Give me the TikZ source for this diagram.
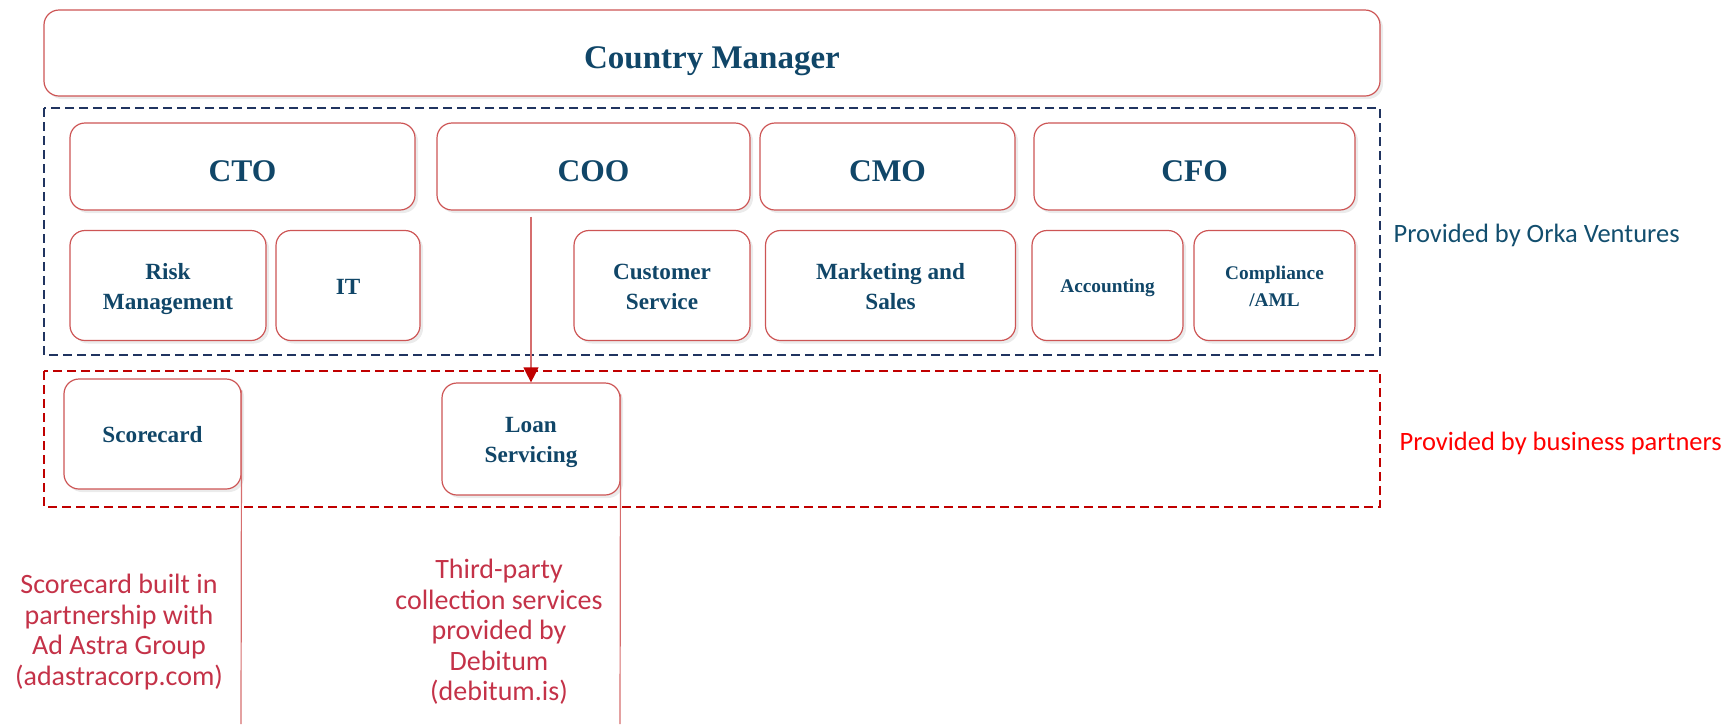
\documentclass[tikz,border=0pt]{standalone}
\usepackage{fontspec}
\setmainfont{Liberation Serif}
\newfontfamily\calib{Carlito}
\usetikzlibrary{shadows,arrows.meta}
\definecolor{boxtext}{RGB}{16,70,104}
\definecolor{boxline}{RGB}{205,85,85}
\definecolor{navydash}{RGB}{32,52,96}
\definecolor{reddash}{RGB}{192,0,0}
\definecolor{orka}{RGB}{18,78,110}
\definecolor{partner}{RGB}{255,0,0}
\definecolor{annot}{RGB}{196,50,72}
\definecolor{linkred}{RGB}{214,110,110}
\newcommand\boxtx[2]{\raisebox{-#1}[\height][\depth]{\begin{tabular}{@{}c@{}}#2\end{tabular}}}
\begin{document}
\begin{tikzpicture}[x=1pt,y=-1pt,
  orgbox/.style={draw=boxline, line width=1.2pt, rounded corners=15pt, fill=white,
    inner sep=0pt, align=center, text=boxtext,
    drop shadow={opacity=0.16, shadow xshift=3pt, shadow yshift=-3pt}},
  bigtxt/.style={font=\fontsize{33}{38}\selectfont\bfseries},
  midtxt/.style={font=\fontsize{31.5}{36}\selectfont\bfseries},
  subtxt/.style={font=\fontsize{23.2}{30}\selectfont\bfseries},
  smalltxt/.style={font=\fontsize{19.3}{27}\selectfont\bfseries},
  groupline/.style={line width=2.6pt, dash pattern=on 9pt off 5pt},
  annottxt/.style={font=\calib\fontsize{28}{30.5}\selectfont, text=annot, align=center},
  sidetxt/.style={font=\calib\fontsize{26.5}{30}\selectfont, anchor=west},
  link/.style={draw=linkred, line width=1.2pt}
]
\useasboundingbox (0,0) rectangle (1734,724);

% group frames
\draw[groupline, draw=navydash] (44,108) rectangle (1380,355);
\draw[groupline, draw=reddash] (44,371) rectangle (1380,507);

% top
\node[orgbox, bigtxt, minimum width=1336pt, minimum height=86pt] (cm) at (712,53) {\boxtx{8.3pt}{Country Manager}};

% executives
\node[orgbox, midtxt, minimum width=345pt, minimum height=87pt] (cto) at (242.5,166.5) {\boxtx{8pt}{CTO}};
\node[orgbox, midtxt, minimum width=313pt, minimum height=87pt] (coo) at (593.5,166.5) {\boxtx{8pt}{COO}};
\node[orgbox, midtxt, minimum width=255pt, minimum height=87pt] (cmo) at (887.5,166.5) {\boxtx{8pt}{CMO}};
\node[orgbox, midtxt, minimum width=321pt, minimum height=87pt] (cfo) at (1194.5,166.5) {\boxtx{8pt}{CFO}};

% departments
\node[orgbox, subtxt, minimum width=196pt, minimum height=110pt] (risk) at (168,285.5) {\boxtx{3.3pt}{Risk\\Management}};
\node[orgbox, subtxt, minimum width=144pt, minimum height=110pt] (it) at (348,285.5) {\boxtx{3.3pt}{IT}};
\node[orgbox, subtxt, minimum width=176pt, minimum height=110pt] (cs) at (662,285.5) {\boxtx{3.3pt}{Customer\\Service}};
\node[orgbox, subtxt, minimum width=250pt, minimum height=110pt] (ms) at (890.5,285.5) {\boxtx{3.3pt}{Marketing and\\Sales}};
\node[orgbox, smalltxt, minimum width=151pt, minimum height=110pt] (acc) at (1107.5,285.5) {\boxtx{1.6pt}{Accounting}};
\node[orgbox, smalltxt, minimum width=161pt, minimum height=110pt] (comp) at (1274.5,285.5) {\boxtx{1.6pt}{Compliance\\/AML}};

% partners
\node[orgbox, subtxt, minimum width=177pt, minimum height=110pt] (sc) at (152.5,434) {\boxtx{2.3pt}{Scorecard}};
\node[orgbox, subtxt, minimum width=178pt, minimum height=112pt] (loan) at (531,439) {\boxtx{2.3pt}{Loan\\Servicing}};

% side labels
\node[sidetxt, text=orka] (lblorka) at (1390,235) {Provided by Orka Ventures};
\node[sidetxt, text=partner] (lblpart) at (1396,443) {Provided by business partners};

% annotations
\node[annottxt] (scnote) at (119,632) {Scorecard built in\\partnership with\\Ad Astra Group\\(adastracorp.com)};
\node[annottxt] (loannote) at (499,632) {Third-party\\collection services\\provided by\\Debitum\\(debitum.is)};

% connectors
\draw[link, shorten <=6pt, -{Triangle[length=15pt,width=15pt,fill=reddash,color=reddash]}] (coo.south -| loan.north) -- (loan.north);
\coordinate (scbot) at (241,724);
\coordinate (loanbot) at (620,724);
\draw[link] ([yshift=-12pt]sc.north east) -- (scbot);
\draw[link] ([yshift=-12pt]loan.north east) -- (loanbot);
\end{tikzpicture}
\end{document}
